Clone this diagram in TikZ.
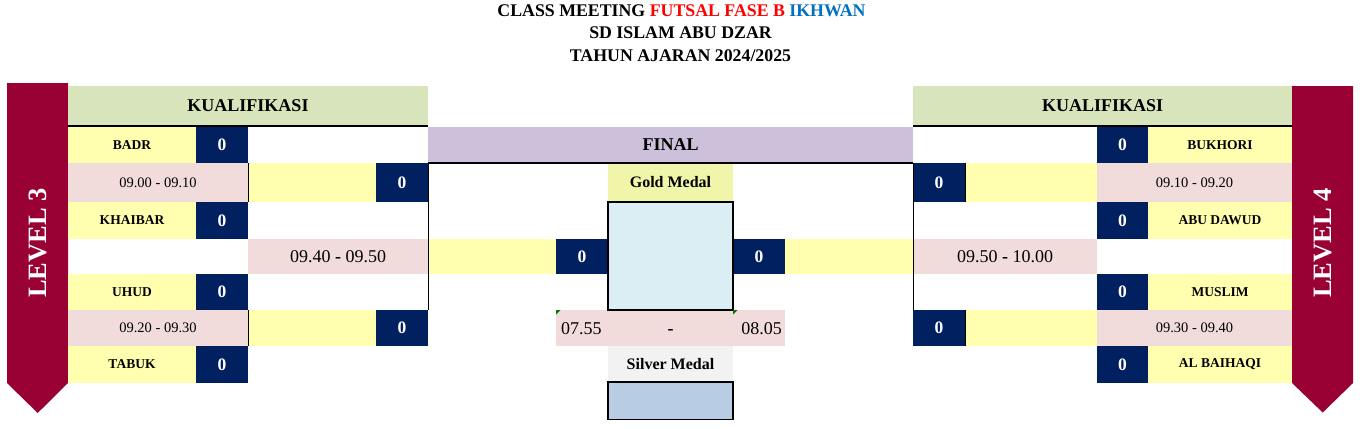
\documentclass[tikz,border=0pt]{standalone}
\usepackage{fontspec}
\setmainfont{Liberation Serif}
\definecolor{cbanner}{HTML}{990033}
\definecolor{ckgreen}{HTML}{D8E4BC}
\definecolor{ctyellow}{HTML}{FFFFAF}
\definecolor{cnavy}{HTML}{002060}
\definecolor{cpink}{HTML}{F2DCDB}
\definecolor{cpurple}{HTML}{CCC0DA}
\definecolor{cgmed}{HTML}{F0F5A9}
\definecolor{cgbox}{HTML}{DAEEF3}
\definecolor{csmed}{HTML}{F2F2F2}
\definecolor{csbox}{HTML}{B8CCE4}
\definecolor{ctred}{HTML}{FF0000}
\definecolor{ctblue}{HTML}{0070C0}
\definecolor{ccomment}{HTML}{007A00}
\newcommand\mycell[7]{%
  \pgfmathsetmacro\mycx{(#2+#4)/2}\pgfmathsetmacro\mycy{(#3+#5)/2}%
  \pgfmathsetmacro\mycw{#4-#2}\pgfmathsetmacro\mych{#5-#3}%
  \node[#6, minimum width=\mycw pt, minimum height=\mych pt] (#1) at (\mycx,\mycy) {#7};}
\tikzset{
  cellbase/.style={inner sep=0pt, outer sep=0pt, draw=none},
  teamcell/.style={cellbase, fill=ctyellow, font=\fontsize{13.5}{15}\selectfont\bfseries},
  scorecell/.style={cellbase, fill=cnavy, text=white, font=\fontsize{17.5}{19}\selectfont\bfseries},
  blankcell/.style={cellbase, fill=ctyellow},
  timesmall/.style={cellbase, fill=cpink, font=\fontsize{14.5}{16}\selectfont},
  timelarge/.style={cellbase, fill=cpink, font=\fontsize{18}{20}\selectfont},
  headcell/.style={cellbase, fill=ckgreen, font=\fontsize{18}{20}\selectfont\bfseries},
  finalcell/.style={cellbase, fill=cpurple, font=\fontsize{18}{20}\selectfont\bfseries},
  medalcell/.style={cellbase, font=\fontsize{16}{18}\selectfont\bfseries},
  boxcell/.style={cellbase, draw=black, line width=1.6pt},
  thinline/.style={draw=black, line width=0.9pt},
  thickline/.style={draw=black, line width=1.6pt},
  bannertext/.style={inner sep=0pt, text=white, rotate=90, font=\fontsize{26.5}{28}\selectfont\bfseries},
  titletext/.style={inner sep=0pt, anchor=base, font=\fontsize{17.8}{20}\selectfont\bfseries},
  plaintext/.style={inner sep=0pt, font=\fontsize{18}{20}\selectfont}
}
\begin{document}
\begin{tikzpicture}[x=1pt,y=-1pt]
\useasboundingbox (0,0) rectangle (1364,428);
% title
\node[titletext] (t1) at (681.5,16.7) {CLASS MEETING \textcolor{ctred}{FUTSAL FASE B} \textcolor{ctblue}{IKHWAN}};
\node[titletext] (t2) at (680.5,39) {SD ISLAM ABU DZAR};
\node[titletext] (t3) at (680.5,61) {TAHUN AJARAN 2024/2025};
% banners
\fill[cbanner] (7,83) -- (68,83) -- (68,383) -- (37.7,413) -- (7,383) -- cycle;
\fill[cbanner] (1292,86) -- (1353,86) -- (1353,383) -- (1322.7,412.5) -- (1292,383) -- cycle;
\node[bannertext] (lv3) at (37.7,243) {LEVEL 3};
\node[bannertext] (lv4) at (1322.7,243) {LEVEL 4};
% left qualification
\mycell{kl}{68}{86}{428}{126}{headcell}{KUALIFIKASI}
\mycell{lt1}{68}{127}{196}{163}{teamcell}{BADR}
\mycell{ls1}{196}{127}{248}{163}{scorecell}{0}
\mycell{ltm1}{68}{163}{248}{202}{timesmall}{09.00 - 09.10}
\mycell{lt2}{68}{202}{196}{239}{teamcell}{KHAIBAR}
\mycell{ls2}{196}{202}{248}{239}{scorecell}{0}
\mycell{lt3}{68}{274}{196}{310}{teamcell}{UHUD}
\mycell{ls3}{196}{274}{248}{310}{scorecell}{0}
\mycell{ltm2}{68}{310}{248}{346}{timesmall}{09.20 - 09.30}
\mycell{lt4}{68}{346}{196}{383}{teamcell}{TABUK}
\mycell{ls4}{196}{346}{248}{383}{scorecell}{0}
\mycell{lr1}{248}{163}{376}{202}{blankcell}{}
\mycell{lr1s}{376}{163}{428}{202}{scorecell}{0}
\mycell{lr2}{248}{310}{376}{346}{blankcell}{}
\mycell{lr2s}{376}{310}{428}{346}{scorecell}{0}
\mycell{lsf}{248}{239}{428}{274}{timelarge}{09.40 \textbf{-} 09.50}
% right qualification
\mycell{kr}{913}{86}{1292}{126}{headcell}{KUALIFIKASI}
\mycell{rs1}{1097}{127}{1148}{163}{scorecell}{0}
\mycell{rt1}{1148}{127}{1292}{163}{teamcell}{BUKHORI}
\mycell{rtm1}{1097}{163}{1292}{202}{timesmall}{09.10 - 09.20}
\mycell{rs2}{1097}{202}{1148}{239}{scorecell}{0}
\mycell{rt2}{1148}{202}{1292}{239}{teamcell}{ABU DAWUD}
\mycell{rs3}{1097}{274}{1148}{310}{scorecell}{0}
\mycell{rt3}{1148}{274}{1292}{310}{teamcell}{MUSLIM}
\mycell{rtm2}{1097}{310}{1292}{346}{timesmall}{09.30 - 09.40}
\mycell{rs4}{1097}{346}{1148}{383}{scorecell}{0}
\mycell{rt4}{1148}{346}{1292}{383}{teamcell}{AL BAIHAQI}
\mycell{rr1s}{913}{163}{965}{202}{scorecell}{0}
\mycell{rr1}{965}{163}{1097}{202}{blankcell}{}
\mycell{rr2s}{913}{310}{965}{346}{scorecell}{0}
\mycell{rr2}{965}{310}{1097}{346}{blankcell}{}
\mycell{rsf}{913}{239}{1097}{274}{timelarge}{09.50 \textbf{-} 10.00}
% final
\mycell{fin}{428}{127}{913}{163}{finalcell}{FINAL}
\mycell{gmed}{608}{163}{733}{202}{medalcell,fill=cgmed}{Gold Medal}
\mycell{fl}{428}{239}{556}{274}{blankcell}{}
\mycell{fls}{556}{239}{608}{274}{scorecell}{0}
\mycell{frs}{733}{239}{785}{274}{scorecell}{0}
\mycell{fr}{785}{239}{913}{274}{blankcell}{}
\mycell{ftm}{556}{310}{785}{346}{cellbase,fill=cpink}{}
\node[plaintext, anchor=base west] (ftma) at (561,334.5) {07.55};
\node[plaintext, anchor=base] (ftmb) at (ftm.center |- ftma.base) {\textbf{-}};
\node[plaintext, anchor=base east] (ftmc) at (782,334.5) {08.05};
\mycell{smed}{608}{346}{733}{382}{medalcell,fill=csmed}{Silver Medal}
\mycell{gbox}{608}{202}{733}{310}{boxcell,fill=cgbox}{}
\mycell{sbox}{608}{382}{733}{419.5}{boxcell,fill=csbox}{}
\fill[ccomment] (ftm.north west) -- ++(4.5,0) -- ++(-4.5,4.5) -- cycle;
\fill[ccomment] (gbox.south east) -- ++(4.5,0) -- ++(-4.5,4.5) -- cycle;
% lines
\draw[thickline] (kl.south west) -- (kl.south east);
\draw[thickline] (kr.south west) -- (kr.south east);
\draw[thickline] (fin.south west) -- (fin.south east);
\draw[thinline] (ltm1.north east) -- (ltm1.south east);
\draw[thinline] (ltm2.north east) -- (ltm2.south east);
\draw[thinline] (lr1s.north east) -- (lr2s.north east);
\draw[thinline] (rr1s.north east) -- (rr1s.south east);
\draw[thinline] (rr2s.north east) -- (rr2s.south east);
\draw[thinline] (rr1s.north west) -- (rr2s.north west);
\end{tikzpicture}
\end{document}
